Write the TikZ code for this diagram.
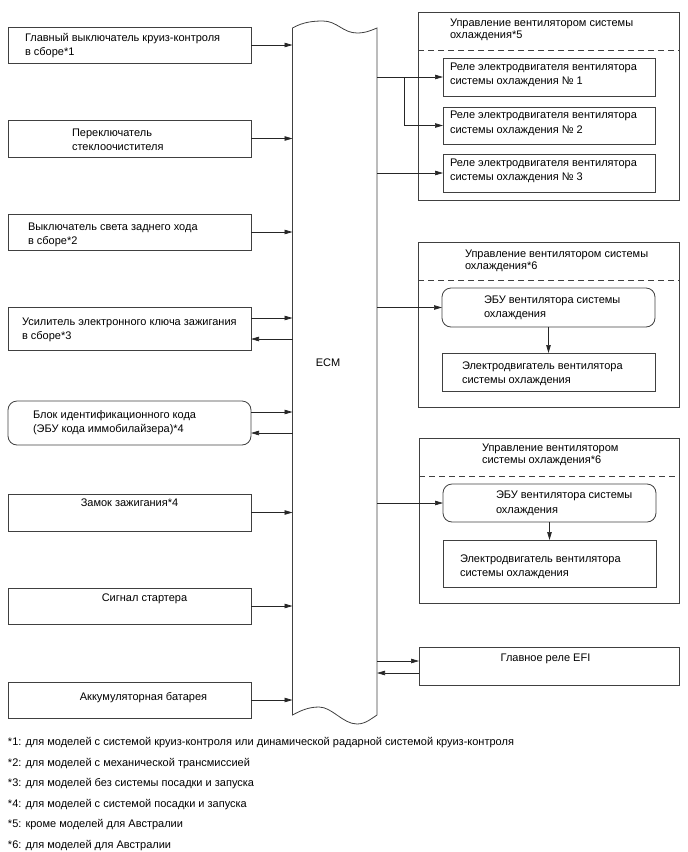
\documentclass[tikz,border=0pt]{standalone}
\usepackage{fontspec}
\setmainfont{Liberation Sans}
\usetikzlibrary{arrows.meta}
\begin{document}
\begin{tikzpicture}[x=1pt,y=-1pt,
  every node/.style={inner sep=0pt, outer sep=0pt},
  boxn/.style={draw=black!75, line width=0.8pt, rectangle, inner sep=0pt},
  rboxn/.style={boxn, rounded corners=9pt},
  txt/.style={font=\fontsize{11}{14.5}\selectfont, align=left, anchor=west, text=black},
  ttl/.style={font=\fontsize{11}{12.5}\selectfont, align=left, anchor=west, text=black},
  ctxt/.style={font=\fontsize{11}{14}\selectfont, align=center, text=black},
  conn/.style={draw=black!85, line width=0.7pt, -{Triangle[length=8pt,width=4.5pt]}},
  sep/.style={draw=black!75, line width=0.8pt, dash pattern=on 6pt off 4pt},
  ]
\useasboundingbox (0,0) rectangle (688,852);

% ---- left boxes ----
\node[boxn, minimum width=243, minimum height=36] (b1) at (129.5,45) {};
\node[boxn, minimum width=243, minimum height=37] (b2) at (129.5,138.5) {};
\node[boxn, minimum width=243, minimum height=36] (b3) at (129.5,232) {};
\node[boxn, minimum width=243, minimum height=43] (b4) at (129.5,328.5) {};
\node[rboxn, minimum width=243, minimum height=44] (b5) at (129.5,423) {};
\node[boxn, minimum width=243, minimum height=37] (b6) at (129.5,512.5) {};
\node[boxn, minimum width=243, minimum height=36] (b7) at (129.5,606) {};
\node[boxn, minimum width=243, minimum height=36] (b8) at (129.5,700) {};

\node[txt] (t1) at (25,45.5) {Главный выключатель круиз-контроля\\в сборе*1};
\node[txt] (t2) at (72,140) {Переключатель\\стеклоочистителя};
\node[txt] (t3) at (28,235) {Выключатель света заднего хода\\в сборе*2};
\node[txt] (t4) at (22,330) {Усилитель электронного ключа зажигания\\в сборе*3};
\node[txt] (t5) at (33,422.5) {Блок идентификационного кода\\(ЭБУ кода иммобилайзера)*4};
\node[ctxt] (t6) at (129.5,503) {Замок зажигания*4};
\node[ctxt] (t7) at (144.5,599) {Сигнал стартера};
\node[ctxt] (t8) at (143.5,698) {Аккумуляторная батарея};

% ---- ECM ----
\node[minimum width=84.5, minimum height=687] (ecm) at (334.75,371.5) {};
\draw[draw=black!75, line width=0.8pt]
  (292.5,28) .. controls (303,22) and (313,21) .. (323,21)
  .. controls (337,21) and (343,33) .. (357,33)
  .. controls (366,33) and (372,30) .. (377,28)
  -- (377,715)
  .. controls (372,718) and (366,724) .. (357,724)
  .. controls (343,724) and (332,707) .. (319,707)
  .. controls (308,707) and (300,711) .. (292.5,715) -- cycle;
\node[ctxt] (ecmlbl) at (328,363) {ECM};

% ---- left connectors ----
\draw[conn] (b1.east) -- (b1.east -| ecm.west);
\draw[conn] (b2.east) -- (b2.east -| ecm.west);
\draw[conn] (b3.east) -- (b3.east -| ecm.west);
\draw[conn] ([yshift=10.5pt]b4.east) -- ([yshift=10.5pt]b4.east -| ecm.west);
\draw[conn] ([yshift=-10.5pt]b4.east -| ecm.west) -- ([yshift=-10.5pt]b4.east);
\draw[conn] ([yshift=11pt]b5.east) -- ([yshift=11pt]b5.east -| ecm.west);
\draw[conn] ([yshift=-10pt]b5.east -| ecm.west) -- ([yshift=-10pt]b5.east);
\draw[conn] (b6.east) -- (b6.east -| ecm.west);
\draw[conn] (b7.east) -- (b7.east -| ecm.west);
\draw[conn] (b8.east) -- (b8.east -| ecm.west);

% ---- group 1 ----
\node[boxn, minimum width=261, minimum height=188] (g1) at (548.5,106) {};
\node[ttl] (g1t) at (450,30) {Управление вентилятором системы\\охлаждения*5};
\draw[sep] (g1.west |- 0,50) -- (g1.east |- 0,50);
\node[boxn, minimum width=212, minimum height=38] (r1) at (549,77) {};
\node[boxn, minimum width=212, minimum height=37] (r2) at (549,125.5) {};
\node[boxn, minimum width=212, minimum height=38] (r3) at (549,173) {};
\node[txt] (r1t) at (450,75) {Реле электродвигателя вентилятора\\системы охлаждения № 1};
\node[txt] (r2t) at (450,123.5) {Реле электродвигателя вентилятора\\системы охлаждения № 2};
\node[txt] (r3t) at (450,171) {Реле электродвигателя вентилятора\\системы охлаждения № 3};
\coordinate (br) at (404,77);
\draw[conn] (ecm.east |- r1.west) -- (r1.west);
\draw[conn] (br) |- (r2.west);
\draw[conn] (ecm.east |- r3.west) -- (r3.west);

% ---- group 2 ----
\node[boxn, minimum width=261, minimum height=165] (g2) at (548.5,324.5) {};
\node[ttl] (g2t) at (465,261) {Управление вентилятором системы\\охлаждения*6};
\draw[sep] (g2.west |- 0,280) -- (g2.east |- 0,280);
\node[rboxn, minimum width=213, minimum height=39] (e2) at (548.5,307.5) {};
\node[boxn, minimum width=213, minimum height=38] (m2) at (548.5,372) {};
\node[txt] (e2t) at (484,307.5) {ЭБУ вентилятора системы\\охлаждения};
\node[txt] (m2t) at (462,373.5) {Электродвигатель вентилятора\\системы охлаждения};
\draw[conn] (ecm.east |- e2.west) -- (e2.west);
\draw[conn] (e2.south) -- (m2.north);

% ---- group 3 ----
\node[boxn, minimum width=260, minimum height=165] (g3) at (549,520.5) {};
\node[ttl] (g3t) at (482,455) {Управление вентилятором\\системы охлаждения*6};
\draw[sep] (g3.west |- 0,476) -- (g3.east |- 0,476);
\node[rboxn, minimum width=213, minimum height=38] (e3) at (549.5,503) {};
\node[boxn, minimum width=213, minimum height=47] (m3) at (549.5,563.5) {};
\node[txt] (e3t) at (496,503) {ЭБУ вентилятора системы\\охлаждения};
\node[txt] (m3t) at (460,566.5) {Электродвигатель вентилятора\\системы охлаждения};
\draw[conn] (ecm.east |- e3.west) -- (e3.west);
\draw[conn] (e3.south) -- (m3.north);

% ---- EFI ----
\node[boxn, minimum width=260, minimum height=38] (efi) at (549,666) {};
\node[ctxt] (efit) at (545.5,659) {Главное реле EFI};
\draw[conn] ([yshift=5pt]efi.west -| ecm.east) -- ([yshift=5pt]efi.west);
\draw[conn] ([yshift=-7pt]efi.west) -- ([yshift=-7pt]efi.west -| ecm.east);

% ---- footnotes ----
\node[txt] (f1) at (8,743) {*1: для моделей с системой круиз-контроля или динамической радарной системой круиз-контроля};
\node[txt] (f2) at (8,763.5) {*2: для моделей с механической трансмиссией};
\node[txt] (f3) at (8,784) {*3: для моделей без системы посадки и запуска};
\node[txt] (f4) at (8,804.5) {*4: для моделей с системой посадки и запуска};
\node[txt] (f5) at (8,825) {*5: кроме моделей для Австралии};
\node[txt] (f6) at (8,845.5) {*6: для моделей для Австралии};
\end{tikzpicture}
\end{document}
